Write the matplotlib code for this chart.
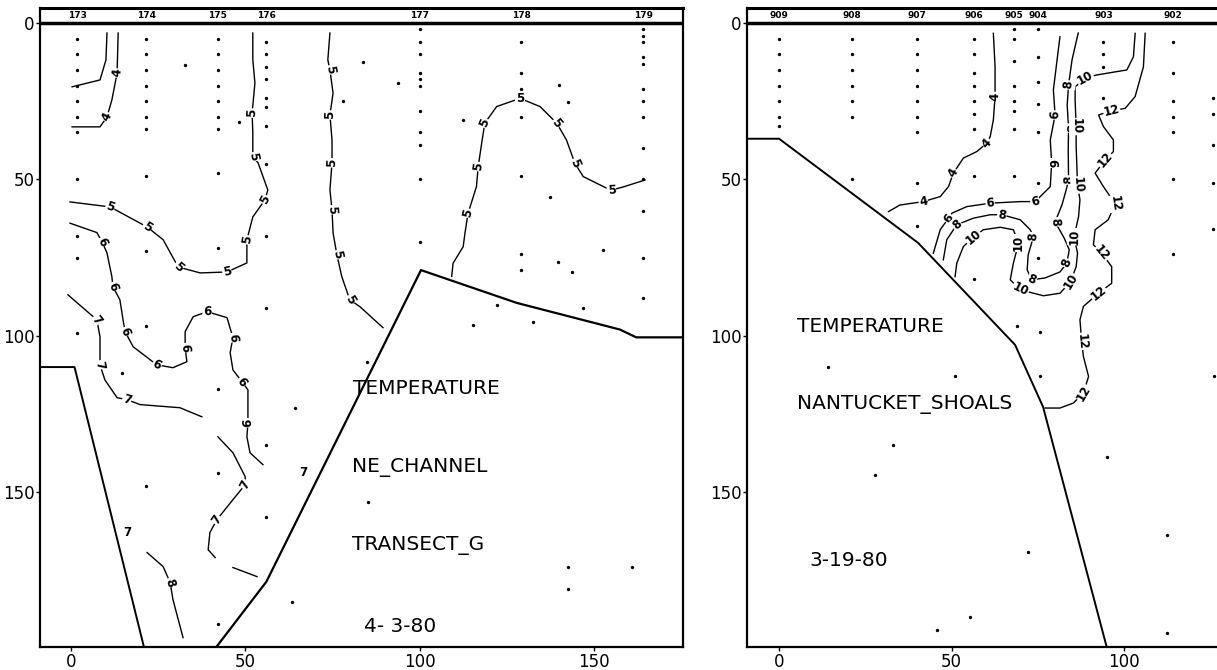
import numpy as np
import matplotlib.pyplot as plt

# ---------------- left section: NE channel, transect G, 4-3-80 ----------------
left_stations = ['173', '174', '175', '176', '177', '178', '179']
left_station_x = [1.7, 21.5, 42, 56, 100, 129, 164]
left_sample_depths = [
    [5, 10, 15, 20, 25, 30, 35, 50, 68, 75, 99],
    [5, 10, 15, 20, 25, 30, 34, 49, 73, 97, 148],
    [5, 10, 15, 20, 25, 30, 34, 48, 72, 117, 144, 192],
    [6, 10, 14, 18, 24, 27, 33, 45, 68, 91, 135, 158],
    [2, 6, 10, 16, 18, 20, 28, 35, 39, 50, 70],
    [6, 16, 21, 30, 49, 74, 79],
    [2, 4, 6, 11, 13, 21, 25, 30, 40, 50, 60, 75, 88],
]
left_extra_x = [83.7, 93.7, 78, 112.3, 140, 142.4, 137.2, 152.4, 139.5, 143.5, 122, 115.2,
                132.4, 146.7, 64.2, 84.8, 85, 63.3, 14.6, 142.4, 160.7, 142.4, 32.7, 48]
left_extra_d = [12.5, 19.2, 25, 31, 19.8, 25.2, 55.6, 72.5, 76.4, 79.5, 90, 96.5,
                95.5, 91, 123, 108.3, 153, 185, 111.8, 174, 173.8, 181, 13.4, 31.6]

left_bottom1_x = [-10, 1, 21]
left_bottom1_d = [110, 110, 200]
left_bottom2_x = [41.3, 56, 100.3, 127.8, 157.3, 162, 180]
left_bottom2_d = [200, 178.6, 79, 89.5, 98, 100.5, 100.5]

# contour lines (x along transect, depth), label = indices of points carrying a label
l4a_x = [10.3, 10, 8.3, 0.3]
l4a_d = [3.2, 11.8, 18.2, 20.4]
l4a_lab = []
l4b_x = [13.5, 13.2, 11.7, 10.3, 8.3, 0.3]
l4b_d = [3.2, 16, 24.6, 30, 33.2, 33.2]
l4b_lab = [1, 3]
l5a_x = [-0.3, 11.2, 21.8, 26.4, 30.7, 37, 44.7, 50.4, 50.4, 52.1, 55.6, 56.4, 53.6, 52.1,
         52.1, 51.9, 52.7, 52.1, 52.1]
l5a_d = [57.2, 58.8, 65.2, 69.3, 78, 79.9, 79.6, 76.7, 69.3, 62, 56.5, 53.4, 44.7, 42.8,
         35.1, 28.8, 19.2, 11.8, 3.2]
l5a_lab = [1, 2, 4, 6, 8, 10, 13, 15]
l6a_x = [-0.3, 7.4, 8.9, 10.3, 11.7, 12, 14, 14.9, 15.5, 17.8, 24.6, 29.2, 33.2, 32.7,
         32.7, 35, 39, 44.7, 46.4, 45.6, 46.4, 49, 50.7, 50.7, 50.4, 51.3, 55]
l6a_d = [64, 67, 70, 73.5, 81.1, 84.3, 88.5, 94.9, 98.7, 103.5, 109.3, 110.2, 108.3, 103.8,
         98.7, 93.9, 92.3, 94.2, 100.6, 105.4, 110.9, 114.7, 117.3, 127.8, 132.3, 137.4, 141.2]
l6a_lab = [2, 5, 8, 10, 13, 16, 18, 21, 23]
l7a_x = [-0.9, 7.4, 8.3, 8.3, 8.3, 9.7, 13.2, 16, 19.8, 31.2, 37.5]
l7a_d = [86.9, 94.9, 100.3, 106.7, 109.3, 114.1, 119.8, 120.4, 122, 123, 125.9]
l7a_lab = [1, 4, 7]
l7b_x = [42.1, 46.4, 49.9, 49.9, 46.4, 41.8, 39.8, 39.3, 41.3]
l7b_d = [132.3, 137.4, 145, 147.6, 152.4, 158.8, 162.9, 168.4, 170.9]
l7b_lab = [3, 5]
l7c_x = [46.4, 53.3]
l7c_d = [174.1, 177]
l7c_lab = []
l8a_x = [21.8, 26.4, 28.4, 29.2, 32.1]
l8a_d = [169.3, 173.8, 178.9, 184.3, 196.5]
l8a_lab = [2]
l5b_x = [74.2, 73.6, 74.2, 75.1, 74.2, 74.8, 74.8, 74.2, 74.8, 75.1, 76.2, 77.6, 79.9, 82.8, 89.4]
l5b_d = [3.2, 11.8, 15, 22.4, 29.4, 37.4, 44.7, 53.4, 59.7, 67.1, 74.1, 81.1, 88.5, 90.7, 97.4]
l5b_lab = [2, 4, 6, 8, 10, 12]
l5c_x = [109.1, 109.5, 112.4, 112.9, 113.8, 116.2, 116.7, 117.7, 118.6, 122, 128.7, 134.4,
         139.2, 142, 144.4, 146.8, 153.5, 154.9, 158, 164.5]
l5c_d = [81, 76.8, 71.5, 67.2, 60.8, 52.3, 45.9, 38.4, 32, 26.7, 24.1, 26.7,
         32, 37.4, 44.8, 49.1, 52.8, 53.4, 52.5, 50.2]
l5c_lab = [4, 6, 8, 10, 12, 14, 17]
left_lone_x = [66.5, 16]
left_lone_d = [143.8, 163]
left_lone_val = [7, 7]

left_text = ['TEMPERATURE', 'NE_CHANNEL', 'TRANSECT_G', '4- 3-80']
left_text_x = [80.8, 80.6, 80.6, 84]
left_text_d = [117, 142, 167, 193]

# ---------------- right section: Nantucket shoals, 3-19-80 ----------------
right_stations = ['909', '908', '907', '906', '905', '904', '903', '902']
right_station_x = [0, 21.2, 40, 56.5, 68.1, 75.1, 94, 114.2]
right_sample_depths = [
    [5, 10, 15, 20, 25, 30, 33],
    [5, 10, 15, 20, 25, 30, 50],
    [5, 10, 15, 20, 25, 30, 35, 51, 65],
    [5, 10, 16, 20, 25, 29, 34, 49, 82],
    [2, 5, 12, 20, 25, 28, 34, 49],
    [2, 11, 19, 26, 35, 51, 75],
    [6, 10, 14, 24],
    [6, 16, 25, 30, 35, 50, 74],
]
right_extra_x = [14.2, 51, 33, 27.8, 72.2, 55.4, 45.8, 112.5, 112.5, 126, 95, 69, 75.7, 75.7,
                 125.8, 125.8, 125.8, 125.8, 125.8]
right_extra_d = [110, 113, 134.8, 144.4, 169, 190, 194, 163.6, 195, 113, 138.7, 97, 98.7, 113,
                 24, 29, 39, 51, 66]

right_bottom_x = [-10, 0, 40.3, 68.4, 76.5, 95]
right_bottom_d = [37, 37, 70.3, 102.9, 122.7, 199.7]

r4_x = [62.1, 62.6, 62.6, 62.1, 61.2, 60.2, 57.3, 53.4, 50.5, 49.1, 46.7, 41.8, 35, 31.7]
r4_d = [3.3, 13.9, 23.5, 31, 36.3, 38.4, 41.1, 43.2, 48, 52.3, 55.5, 57.1, 58.2, 60.3]
r4_lab = [2, 5, 8, 11]
r6_x = [81.4, 79.5, 80, 78.6, 79, 78.6, 75.7, 74.2, 69.9, 61.2, 54.4, 50.1, 49.1, 46.7, 44.7]
r6_d = [4.4, 21.4, 29.4, 37.4, 44.8, 52.3, 55.5, 57.1, 57.1, 57.6, 58.7, 60.8, 62.4, 66.1, 73.6]
r6_lab = [2, 4, 7, 9, 12]
r8_x = [47.6, 48.6, 51.5, 56.3, 61.2, 64.6, 69.9, 72.8, 73.7, 72.2, 71.9, 73.2, 77.1, 81.4,
        83.4, 84.1, 82.6, 80, 82, 83.2, 83.9, 83.8, 83.9, 83.5, 83.9, 84.9, 86.7]
r8_d = [75.7, 69.3, 64.5, 62.4, 61.3, 61.3, 62.9, 66.1, 68.4, 74.1, 78.9, 82.1, 81.5, 79.6,
        76.8, 72.5, 68.7, 63.6, 58.1, 53.4, 50.2, 40.6, 33.6, 26.2, 19.8, 11.8, 3.2]
r8_lab = [2, 5, 8, 11, 14, 17, 20, 22, 24]
r10_x = [103.2, 102.7, 100.8, 92.1, 88.7, 85.8, 85.8, 86.1, 86.1, 86.5, 87.2, 86.8, 85.5, 86.5,
         86.1, 84.5, 81.4, 76.6, 69.9, 67, 67.9, 69.4, 67.9, 64.1, 59.2, 56.3, 53.4, 51.5, 51]
r10_d = [3.3, 10.8, 15, 16.6, 17.7, 20.4, 24.6, 33.1, 39.5, 51.8, 56.5, 61.9, 68.3, 73.6,
         77.9, 82.7, 86.4, 87.2, 85.3, 82.1, 76.8, 70.4, 66.1, 65.3, 66.1, 68.5, 71.5, 76.8, 81.1]
r10_lab = [4, 7, 9, 12, 15, 18, 21, 25]
r12_x = [106.1, 105.6, 103.2, 100.3, 96.4, 92.6, 94, 96.9, 96.9, 94.5, 91.6, 94, 97.4, 95.4,
         91.6, 91.1, 93.5, 96.4, 96.4, 92.6, 88.2, 87.2, 87.7, 88.2, 89.7, 88.2, 85.3, 81.4, 77.1]
r12_d = [3.3, 14, 23.5, 27.3, 28, 29.4, 33.1, 37.4, 41.1, 43.8, 48, 52.3, 57.8, 62.9,
         66.1, 70.9, 73.6, 77.9, 83.2, 86.4, 90.6, 94.9, 101.8, 106.6, 113, 118.3, 121.5, 123.1, 123.1]
r12_lab = [4, 9, 12, 16, 19, 22, 25]

right_text = ['TEMPERATURE', 'NANTUCKET_SHOALS', '3-19-80']
right_text_x = [5.2, 5.2, 8.7]
right_text_d = [97, 122, 172]


def draw_contour(ax, xs, ds, value, lab):
    ax.plot(xs, ds, color='k', lw=1.0, zorder=2)
    for i in lab:
        i0 = max(i - 1, 0)
        i1 = min(i + 1, len(xs) - 1)
        p0 = ax.transData.transform((xs[i0], ds[i0]))
        p1 = ax.transData.transform((xs[i1], ds[i1]))
        ang = np.degrees(np.arctan2(p1[1] - p0[1], p1[0] - p0[0]))
        if ang > 90:
            ang -= 180
        if ang < -90:
            ang += 180
        ax.text(xs[i], ds[i], str(value), rotation=ang, rotation_mode='anchor',
                ha='center', va='center', fontsize=8.5, fontweight='bold',
                bbox=dict(fc='white', ec='none', pad=0.4), zorder=3)


def setup_axes(ax, xlim, xticks):
    ax.set_xlim(*xlim)
    ax.set_ylim(199.5, -4.8)
    ax.set_xticks(xticks)
    ax.set_yticks([0, 50, 100, 150])
    ax.tick_params(labelsize=12, length=3, width=1, pad=1)
    for s in ax.spines.values():
        s.set_linewidth(1.6)
    ax.spines['top'].set_linewidth(2.2)
    ax.axhline(0, color='k', lw=2.5, zorder=4)


def draw_stations(ax, names, sx, depths, ex, ed):
    for name, x, ds in zip(names, sx, depths):
        ax.text(x, -2.4, name, ha='center', va='center', fontsize=6.5,
                fontweight='bold', zorder=5)
        ax.plot([x] * len(ds), ds, ls='none', marker='o', ms=1.4, color='k', zorder=1)
    ax.plot(ex, ed, ls='none', marker='o', ms=1.4, color='k', zorder=1)


fig = plt.figure(figsize=(12.17, 6.70), dpi=100)

# left panel
ax1 = fig.add_axes([40 / 1217, 1 - 647 / 670, 643 / 1217, 639 / 670])
setup_axes(ax1, (-8.9, 175.4), [0, 50, 100, 150])
draw_stations(ax1, left_stations, left_station_x, left_sample_depths, left_extra_x, left_extra_d)
ax1.plot(left_bottom1_x, left_bottom1_d, color='k', lw=1.4)
ax1.plot(left_bottom2_x, left_bottom2_d, color='k', lw=1.6)
for xs, ds, v, lab in [(l4a_x, l4a_d, 4, l4a_lab), (l4b_x, l4b_d, 4, l4b_lab),
                       (l5a_x, l5a_d, 5, l5a_lab), (l6a_x, l6a_d, 6, l6a_lab),
                       (l7a_x, l7a_d, 7, l7a_lab), (l7b_x, l7b_d, 7, l7b_lab),
                       (l7c_x, l7c_d, 7, l7c_lab), (l8a_x, l8a_d, 8, l8a_lab),
                       (l5b_x, l5b_d, 5, l5b_lab), (l5c_x, l5c_d, 5, l5c_lab)]:
    draw_contour(ax1, xs, ds, v, lab)
for x, d, v in zip(left_lone_x, left_lone_d, left_lone_val):
    ax1.text(x, d, str(v), ha='center', va='center', fontsize=8.5, fontweight='bold')
for t, x, d in zip(left_text, left_text_x, left_text_d):
    ax1.text(x, d, t, ha='left', va='center', fontsize=14.5)

# right panel (runs off the right edge of the page)
ax2 = fig.add_axes([747 / 1217, 1 - 647 / 670, 482 / 1217, 639 / 670])
setup_axes(ax2, (-9.3, 130.4), [0, 50, 100])
draw_stations(ax2, right_stations, right_station_x, right_sample_depths, right_extra_x, right_extra_d)
ax2.plot(right_bottom_x, right_bottom_d, color='k', lw=1.4)
for xs, ds, v, lab in [(r4_x, r4_d, 4, r4_lab), (r6_x, r6_d, 6, r6_lab),
                       (r8_x, r8_d, 8, r8_lab), (r10_x, r10_d, 10, r10_lab),
                       (r12_x, r12_d, 12, r12_lab)]:
    draw_contour(ax2, xs, ds, v, lab)
for t, x, d in zip(right_text, right_text_x, right_text_d):
    ax2.text(x, d, t, ha='left', va='center', fontsize=14.5)

fig.savefig('out.png', dpi=100)
